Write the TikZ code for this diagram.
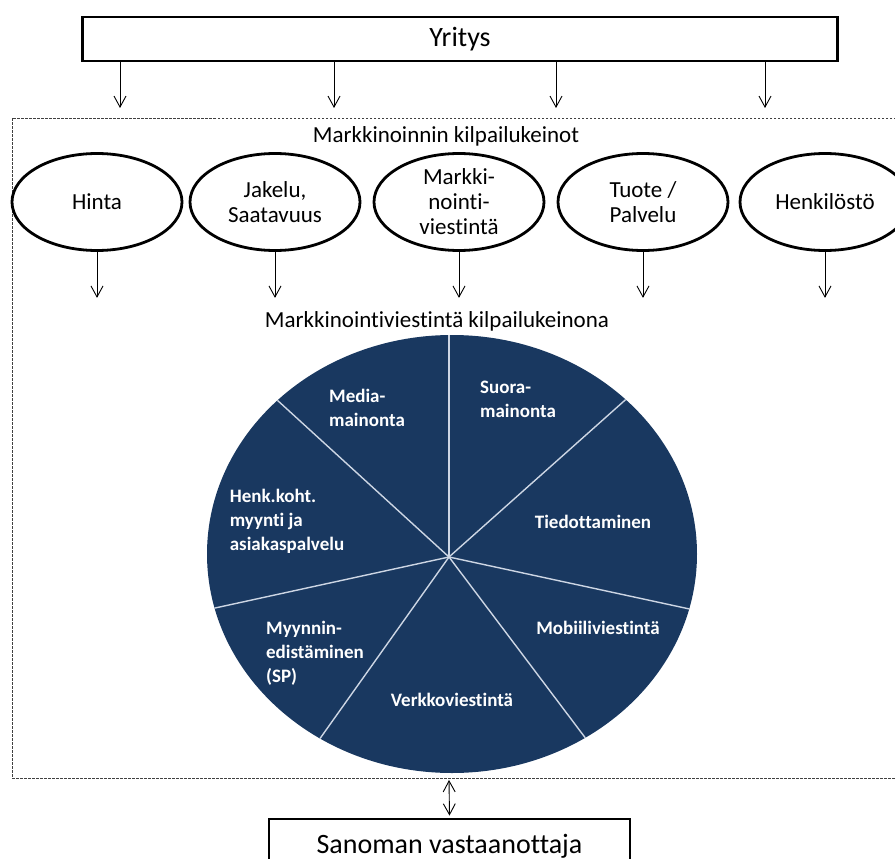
\documentclass[tikz,border=0pt]{standalone}
\usepackage{fontspec}
\setmainfont{Carlito}[Ligatures=NoCommon]
\usetikzlibrary{arrows.meta, shapes.geometric, positioning}

\definecolor{piefill}{RGB}{25,56,96}
\definecolor{spokecol}{RGB}{205,214,228}

\begin{document}
\begin{tikzpicture}[x=1pt, y=-1pt,
    arr/.style={-{Straight Barb[length=11pt,width=12pt]}, line width=0.9pt},
    bigbox/.style={draw, rectangle, line width=2.8pt, inner sep=0pt, font=\fontsize{28}{30}\selectfont},
    keino/.style={draw, ellipse, line width=2.8pt, minimum width=170pt, minimum height=97pt, inner sep=0pt, align=center, font=\fontsize{23}{25}\selectfont},
    headline/.style={font=\fontsize{23}{25}\selectfont},
    slice/.style={text=white, align=left, font=\bfseries\fontsize{19}{24}\selectfont},
    spoke/.style={draw=spokecol, line width=1.4pt},
    dashframe/.style={draw=black!75, line width=0.9pt, dash pattern=on 2.5pt off 1.5pt}]

    \useasboundingbox (0,0) rectangle (895,859);
    \clip (0,0) rectangle (895,859);

    \node[bigbox, minimum width=755pt, minimum height=44pt] (yritys) at (460,39) {Yritys};
    \foreach \x in {120,334,556,765}
        \draw[arr] (yritys.south -| \x,0) -- (\x,108);

    \draw[dashframe] (12,118) rectangle (910,778);
    \coordinate (frame-s) at (449,778);

    \node[headline] (kilpailukeinot) at (446,136) {Markkinoinnin kilpailukeinot};

    \node[keino] (hinta) at (97,202) {Hinta};
    \node[keino] (jakelu) at (275,202) {Jakelu,\\Saatavuus};
    \node[keino] (viestinta) at (459,202) {Markki-\\nointi-\\viestintä};
    \node[keino] (tuote) at (643,202) {Tuote /\\Palvelu};
    \node[keino] (henkilosto) at (825,202) {Henkilöstö};
    \foreach \k in {hinta,jakelu,viestinta,tuote,henkilosto}
        \draw[arr] (\k.south) -- ++(0,46);

    \node[headline] (kilpailukeinona) at (437,321) {Markkinointiviestintä kilpailukeinona};

    \coordinate (pie) at (452,554);
    \coordinate (hub) at (449,557);
    \fill[piefill] (pie) ellipse [x radius=245pt, y radius=219pt];
    \begin{scope}
        \clip (pie) ellipse [x radius=245pt, y radius=219pt];
        \foreach \a in {90,41.7,137.6,192.3,-12.2,234.6,307}
            \draw[spoke] (hub) -- ++(\a:320pt);
    \end{scope}

    \node[slice] (media) at (367,408) {Media-\\mainonta};
    \node[slice] (suora) at (518,399) {Suora-\\mainonta};
    \node[slice] (henk) at (287,521) {Henk.koht.\\myynti ja\\asiakaspalvelu};
    \node[slice] (tiedottaminen) at (593,522) {Tiedottaminen};
    \node[slice] (myynnin) at (315,653) {Myynnin-\\edistäminen\\(SP)};
    \node[slice] (mobiili) at (598,628) {Mobiiliviestintä};
    \node[slice] (verkko) at (452,700) {Verkkoviestintä};

    \node[bigbox, minimum width=361pt, minimum height=54pt] (sanoma) at (449.5,846) {Sanoman vastaanottaja};
    \draw[arr, {Straight Barb[length=11pt,width=12pt]}-{Straight Barb[length=11pt,width=12pt]}] ([yshift=-2pt]frame-s) -- ([yshift=2pt]sanoma.north);
\end{tikzpicture}
\end{document}
